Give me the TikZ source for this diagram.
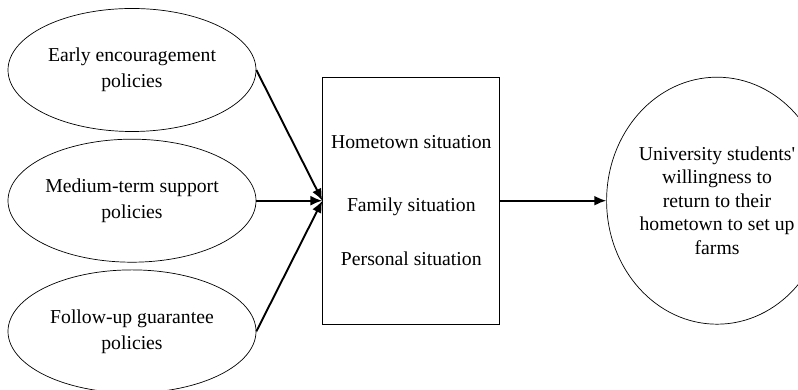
\documentclass[tikz,border=0pt]{standalone}
\usepackage{fontspec}
\setmainfont{Liberation Serif}
\usetikzlibrary{positioning,shapes.geometric,arrows.meta}

\begin{document}
\begin{tikzpicture}[x=1pt,y=1pt,->,>={Latex[length=12pt,width=10pt]},
        policy node/.style={ellipse, draw, line width=0.7pt, align=center,
        inner sep=0pt, minimum width=248pt, minimum height=123pt,
        font=\fontsize{19.7}{26}\selectfont},
        factor box/.style={rectangle, draw, line width=0.9pt, align=center,
        inner sep=0pt, minimum width=177pt, minimum height=247pt,
        font=\fontsize{19.7}{23}\selectfont},
        result node/.style={ellipse, draw, line width=0.7pt, align=center,
        inner sep=0pt, minimum width=190pt, minimum height=247pt,
        font=\fontsize{19.7}{23.5}\selectfont}
        ]
        \useasboundingbox (0,0) rectangle (798,390);

        \node [policy node] (early) at (132,320) {Early encouragement\\policies} ;
        \node [policy node] (medium) [below = 7pt of early] {Medium-term support\\policies} ;
        \node [policy node] (followup) [below = 7pt of medium] {Follow-up guarantee\\policies} ;
        \node [factor box] (factors) [right = 66pt of medium] {Hometown situation\\[40pt]Family situation\\[31pt]Personal situation} ;
        \node [result node] (willing) [right = 106pt of factors] {University students\textquotesingle\\willingness to\\return to their\\hometown to set up\\farms} ;

        \path[every edge/.style={draw, line width=1.9pt}]
        (early.east) edge (factors.west)
        (medium.east) edge (factors.west)
        (followup.east) edge (factors.west)
        (factors.east) edge (willing.west)
        ;
     \end{tikzpicture}
\end{document}
